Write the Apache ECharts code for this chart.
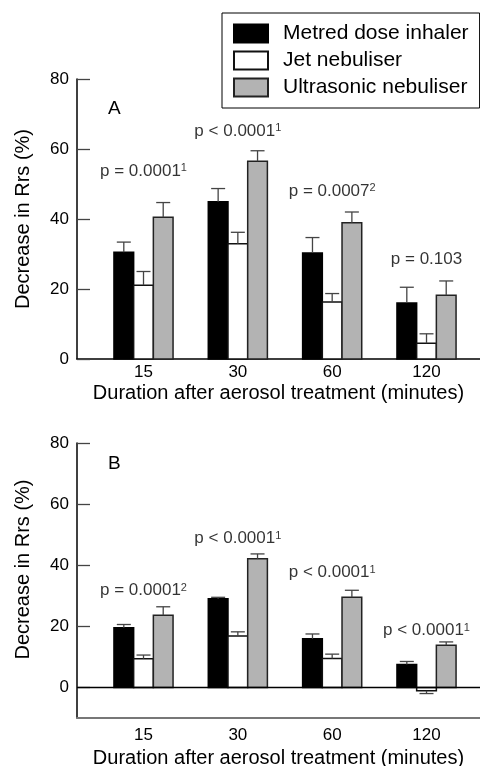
<!DOCTYPE html>
<html>
<head>
<meta charset="utf-8">
<script src="https://cdn.jsdelivr.net/npm/echarts@6/dist/echarts.min.js"></script>
<style>
  html, body { margin: 0; padding: 0; background: #fff; }
  #chart { width: 480px; height: 766px; }
</style>
</head>
<body>
<div id="chart"></div>
<script>
// durations (minutes)
const categories = ["15", "30", "60", "120"];
const seriesNames = ["Metred dose inhaler", "Jet nebuliser", "Ultrasonic nebuliser"];
const yTicks = [0, 20, 40, 60, 80];

// panel A: mean decrease in Rrs (%) and upper error
const mdiA = [30.5, 44.9, 30.3, 16.0];
const mdiErrA = [2.9, 3.8, 4.4, 4.5];
const jetA = [21.1, 32.9, 16.3, 4.5];
const jetErrA = [3.9, 3.3, 2.4, 2.7];
const usnA = [40.5, 56.5, 38.9, 18.2];
const usnErrA = [4.2, 3.0, 3.1, 4.1];

// panel B
const mdiB = [19.5, 29.0, 15.9, 7.5];
const mdiErrB = [1.1, 0.5, 1.6, 1.0];
const jetB = [9.4, 16.8, 9.5, -1.1];
const jetErrB = [1.2, 1.4, 1.4, 0.9];
const usnB = [23.6, 42.1, 29.5, 13.8];
const usnErrB = [2.8, 1.6, 2.3, 1.1];

// p value notes (text + height in axis units)
const pTextA = ["p = 0.0001{s|1}", "p < 0.0001{s|1}", "p = 0.0007{s|2}", "p = 0.103"];
const pLevelA = [53.7, 65.1, 48.0, 28.6];
const pTextB = ["p = 0.0001{s|2}", "p < 0.0001{s|1}", "p < 0.0001{s|1}", "p < 0.0001{s|1}"];
const pLevelB = [31.7, 48.7, 37.6, 18.6];

const FONT = "Liberation Sans";
const BAR_W = 19.7;
const colors = ["#000000", "#ffffff", "#b3b3b3"];
const borders = ["#000000", "#111111", "#222222"];

const chart = echarts.init(document.getElementById("chart"));

// bars drawn through the axis scales, three side by side per duration
function barSeries(k, vals, panel) {
  return {
    name: seriesNames[k],
    type: "custom",
    xAxisIndex: panel,
    yAxisIndex: panel,
    z: 2,
    data: vals.map((v, i) => [i, v]),
    itemStyle: { color: colors[k], borderColor: borders[k], borderWidth: 1.5 },
    renderItem: function (params, api) {
      const i = api.value(0), v = api.value(1);
      const p0 = api.coord([i, 0]);
      const p1 = api.coord([i, v]);
      const x = p0[0] + (k - 1.5) * BAR_W;
      return {
        type: "rect",
        shape: { x: x, y: Math.min(p0[1], p1[1]), width: BAR_W, height: Math.abs(p0[1] - p1[1]) },
        style: api.style()
      };
    }
  };
}

function errSeries(groups, panel) {
  const data = [];
  groups.forEach((g, k) => {
    g[0].forEach((m, i) => data.push([i, m, g[1][i], k]));
  });
  return {
    type: "custom",
    xAxisIndex: panel,
    yAxisIndex: panel,
    z: 3,
    silent: true,
    data: data,
    renderItem: function (params, api) {
      const i = api.value(0), m = api.value(1), e = api.value(2), k = api.value(3);
      const top = api.coord([i, m]);
      const end = api.coord([i, m >= 0 ? m + e : m - e]);
      const x = top[0] + (k - 1) * BAR_W;
      const st = { stroke: "#444", lineWidth: 1.3 };
      return {
        type: "group",
        children: [
          { type: "line", shape: { x1: x, y1: top[1], x2: x, y2: end[1] }, style: st },
          { type: "line", shape: { x1: x - 7, y1: end[1], x2: x + 7, y2: end[1] }, style: st }
        ]
      };
    }
  };
}

function noteSeries(texts, levels, panel) {
  return {
    type: "scatter",
    xAxisIndex: panel,
    yAxisIndex: panel,
    symbolSize: 0,
    silent: true,
    data: texts.map((t, i) => [i, levels[i], t]),
    label: {
      show: true,
      position: "inside",
      formatter: p => p.data[2],
      color: "#000",
      fontFamily: FONT,
      fontSize: 17,
      rich: { s: { fontSize: 11, verticalAlign: "top", fontFamily: FONT, color: "#000" } }
    }
  };
}

function xAxisOpt(panel) {
  return {
    type: "value",
    gridIndex: panel,
    min: -0.705,
    max: 3.567,
    splitLine: { show: false },
    axisTick: { show: false },
    axisLine: {
      onZero: false,
      lineStyle: panel === 0 ? { color: "#000", width: 1.5 } : { color: "#777", width: 2 }
    },
    axisLabel: {
      customValues: [0, 1, 2, 3],
      formatter: v => categories[Math.round(v)],
      color: "#000",
      fontFamily: FONT,
      fontSize: 17,
      margin: panel === 0 ? 5 : 9
    },
    name: "Duration after aerosol treatment (minutes)",
    nameLocation: "middle",
    nameGap: panel === 0 ? 24 : 30,
    nameTextStyle: { color: "#000", fontFamily: FONT, fontSize: 20 }
  };
}

function yAxisOpt(panel) {
  const o = {
    type: "value",
    gridIndex: panel,
    min: panel === 0 ? 0 : -10,
    max: 80,
    splitLine: { show: false },
    axisLine: { onZero: false, lineStyle: { color: "#000", width: 1.5 } },
    axisTick: { inside: true, length: 13, lineStyle: { color: "#444", width: 1.3 } },
    axisLabel: { color: "#000", fontFamily: FONT, fontSize: 17, margin: 8 },
    name: "Decrease in Rrs (%)",
    nameLocation: "middle",
    nameGap: 44,
    nameTextStyle: { color: "#000", fontFamily: FONT, fontSize: 20 }
  };
  if (panel === 0) {
    o.interval = 20;
  } else {
    o.axisLabel.customValues = yTicks;
    o.axisTick.customValues = yTicks;
    o.nameTextStyle.padding = [0, 0, 0, 22];
  }
  return o;
}

const seriesB0 = barSeries(0, mdiB, 1);
seriesB0.markLine = {
  silent: true,
  symbol: "none",
  label: { show: false },
  lineStyle: { color: "#000", type: "solid", width: 1.3 },
  data: [{ yAxis: 0 }]
};

const option = {
  animation: false,
  backgroundColor: "#fff",
  textStyle: { fontFamily: FONT },
  title: [
    { text: "A", left: 103, top: 94, textStyle: { fontSize: 19, fontWeight: "normal", color: "#000", fontFamily: FONT } },
    { text: "B", left: 103, top: 449, textStyle: { fontSize: 19, fontWeight: "normal", color: "#000", fontFamily: FONT } }
  ],
  legend: {
    data: seriesNames,
    orient: "vertical",
    left: 222,
    top: 13,
    padding: [10, 11, 10, 11],
    itemWidth: 34,
    itemHeight: 18,
    itemGap: 6,
    borderColor: "#000",
    borderWidth: 1,
    icon: "rect",
    textStyle: { color: "#000", fontFamily: FONT, fontSize: 21, padding: [0, 0, 0, 10] }
  },
  grid: [
    { left: 77, right: 0, top: 79, height: 280, outerBoundsMode: "none" },
    { left: 77, right: 0, top: 443, height: 275, outerBoundsMode: "none" }
  ],
  xAxis: [xAxisOpt(0), xAxisOpt(1)],
  yAxis: [yAxisOpt(0), yAxisOpt(1)],
  series: [
    barSeries(0, mdiA, 0),
    barSeries(1, jetA, 0),
    barSeries(2, usnA, 0),
    errSeries([[mdiA, mdiErrA], [jetA, jetErrA], [usnA, usnErrA]], 0),
    noteSeries(pTextA, pLevelA, 0),
    seriesB0,
    barSeries(1, jetB, 1),
    barSeries(2, usnB, 1),
    errSeries([[mdiB, mdiErrB], [jetB, jetErrB], [usnB, usnErrB]], 1),
    noteSeries(pTextB, pLevelB, 1)
  ]
};

chart.setOption(option);
</script>
</body>
</html>
